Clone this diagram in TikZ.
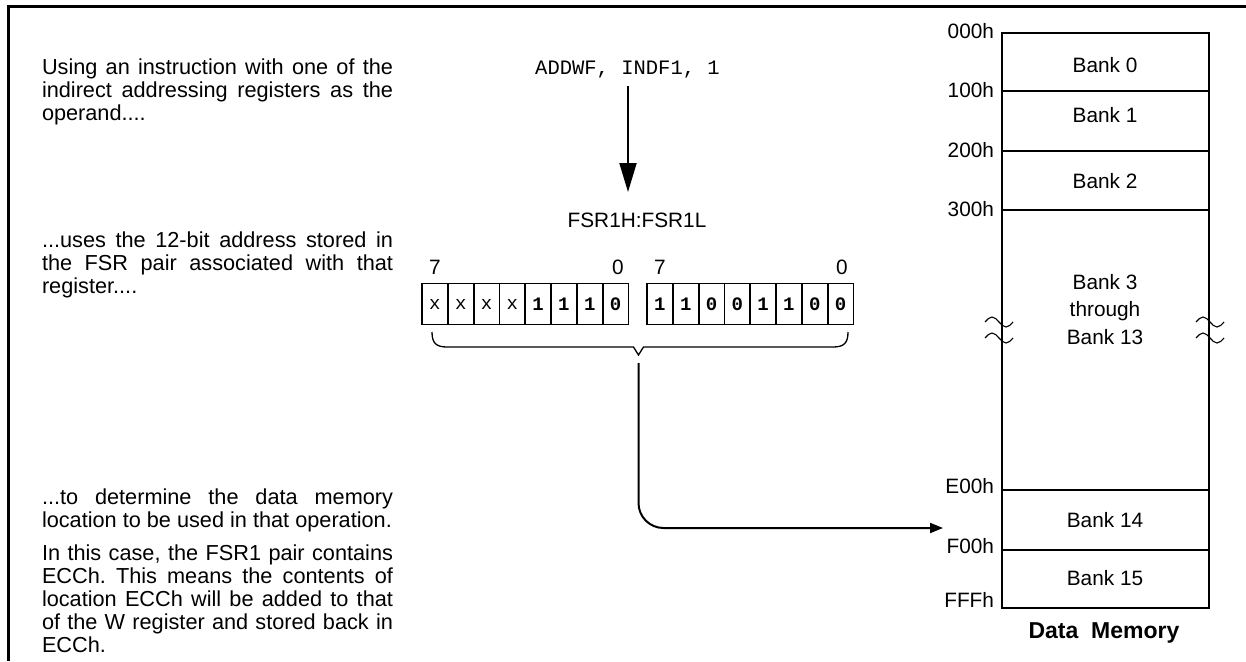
\documentclass[tikz,border=0pt]{standalone}
\usepackage{fontspec}
\setmainfont{Liberation Sans}
\newfontfamily\monofont{Liberation Mono}
\usetikzlibrary{arrows.meta}
\frenchspacing
\begin{document}
\begin{tikzpicture}[x=1pt,y=-1pt,
  every node/.style={inner sep=0pt, outer sep=0pt},
  txt/.style={font=\fontsize{20.8}{23.2}\selectfont},
  para/.style={font=\fontsize{21.7}{23}\selectfont, anchor=north west, text width=351pt, align=justify},
  addr/.style={txt, anchor=east},
  bank/.style={txt, align=center},
  cell/.style={draw, line width=1.8pt, minimum width=25.8pt, minimum height=41pt, anchor=north west, font=\monofont\fontsize{19}{19}\selectfont},
  bit/.style={cell, font=\monofont\bfseries\fontsize{19}{19}\selectfont},
  frameline/.style={line width=3pt},
  mem/.style={line width=2pt},
  conn/.style={line width=2pt},
  wave/.style={line width=1.1pt},
]
\useasboundingbox (0,0) rectangle (1246,661);
% frame (top and left edges)
\draw[frameline] (8,661) -- (8,7) -- (1246,7);

% left explanations
\node[para] (p1) at (42,59) {\setlength{\baselineskip}{23pt}Using an instruction with one of the\linebreak indirect addressing registers as the\linebreak operand....\par};
\node[para] (p2) at (42,232) {\setlength{\baselineskip}{23pt}...uses the 12-bit address stored in\linebreak the FSR pair associated with that\linebreak register....\par};
\node[para] (p3) at (42,489) {\setlength{\baselineskip}{23pt}...to determine the data memory\linebreak location to be used in that operation.\par};
\node[para] (p4) at (42,545) {\setlength{\baselineskip}{23pt}In this case, the FSR1 pair contains\linebreak ECCh. This means the contents of\linebreak location ECCh will be added to that\linebreak of the W register and stored back in\linebreak ECCh.\par};

% instruction and FSR
\node[font=\monofont\fontsize{20.5}{20.5}\selectfont] (instr) at (627.5,70) {ADDWF, INDF1, 1};
\node[txt] (fsr) at (637,220) {FSR1H:FSR1L};
\draw[conn, -{Triangle[length=29pt,width=17pt]}] (628,86) -- (628,192);

% bit labels
\node[txt] (h7) at (435,267) {7};
\node[txt] (h0) at (618,267) {0};
\node[txt] (l7) at (660,267) {7};
\node[txt] (l0) at (842,267) {0};

% high register
\foreach \t [count=\i from 0] in {x,x,x,x} {
  \node[cell] (hc\i) at (422+25.8*\i,283.5) {\t};
}
\foreach \t [count=\i from 4] in {1,1,1,0} {
  \node[bit] (hc\i) at (422+25.8*\i,283.5) {\t};
}
% low register
\foreach \t [count=\i from 0] in {1,1,0,0,1,1,0,0} {
  \node[bit] (lc\i) at (647+25.8*\i,283.5) {\t};
}

% brace
\coordinate (brl) at (432,332);
\coordinate (brr) at (848,332);
\coordinate (brtip) at (638.5,355);
\draw[line width=1.3pt] (brl) .. controls (432,343) and (436,347) .. (447,347) -- (633.5,347) -- (brtip) -- (643.5,347) -- (833,347) .. controls (844,347) and (848,343) .. (brr);

% memory map
\draw[mem] (1002,33) rectangle (1209,608);
\foreach \y in {91,151,210,490,550} { \draw[mem] (1002,\y) -- (1209,\y); }
\node[addr] (a000) at (994,31) {000h};
\node[addr] (a100) at (994,90) {100h};
\node[addr] (a200) at (994,150) {200h};
\node[addr] (a300) at (994,209.5) {300h};
\node[addr] (aE00) at (994,486) {E00h};
\node[addr] (aF00) at (994,546) {F00h};
\node[addr] (aFFF) at (994,599.5) {FFFh};

\node[bank] (b0) at (1105,65) {Bank 0};
\node[bank] (b1) at (1105,115) {Bank 1};
\node[bank] (b2) at (1105,181.5) {Bank 2};
\node[bank, execute at begin node={\setlength{\baselineskip}{27.5pt}}] (b3) at (1105,309.5) {Bank 3\\through\\Bank 13};
\node[bank] (b14) at (1105,520) {Bank 14};
\node[bank] (b15) at (1105,578.5) {Bank 15};
\node[font=\bfseries\fontsize{23}{23}\selectfont] (dm) at (1104,633) {Data\ \ Memory};

% break marks
\foreach \xx in {985,1196} {
  \foreach \yy in {322,338} {
    \draw[wave] (\xx,\yy) sin (\xx+7,\yy-5) cos (\xx+14,\yy) sin (\xx+21,\yy+5) cos (\xx+28,\yy);
  }
}

% connector to bank 14
\coordinate (tgt) at (943,528);
\draw[conn, rounded corners=25pt, -{Triangle[length=13pt,width=10pt]}] ([yshift=-8pt]brtip) |- (tgt);
\end{tikzpicture}
\end{document}
